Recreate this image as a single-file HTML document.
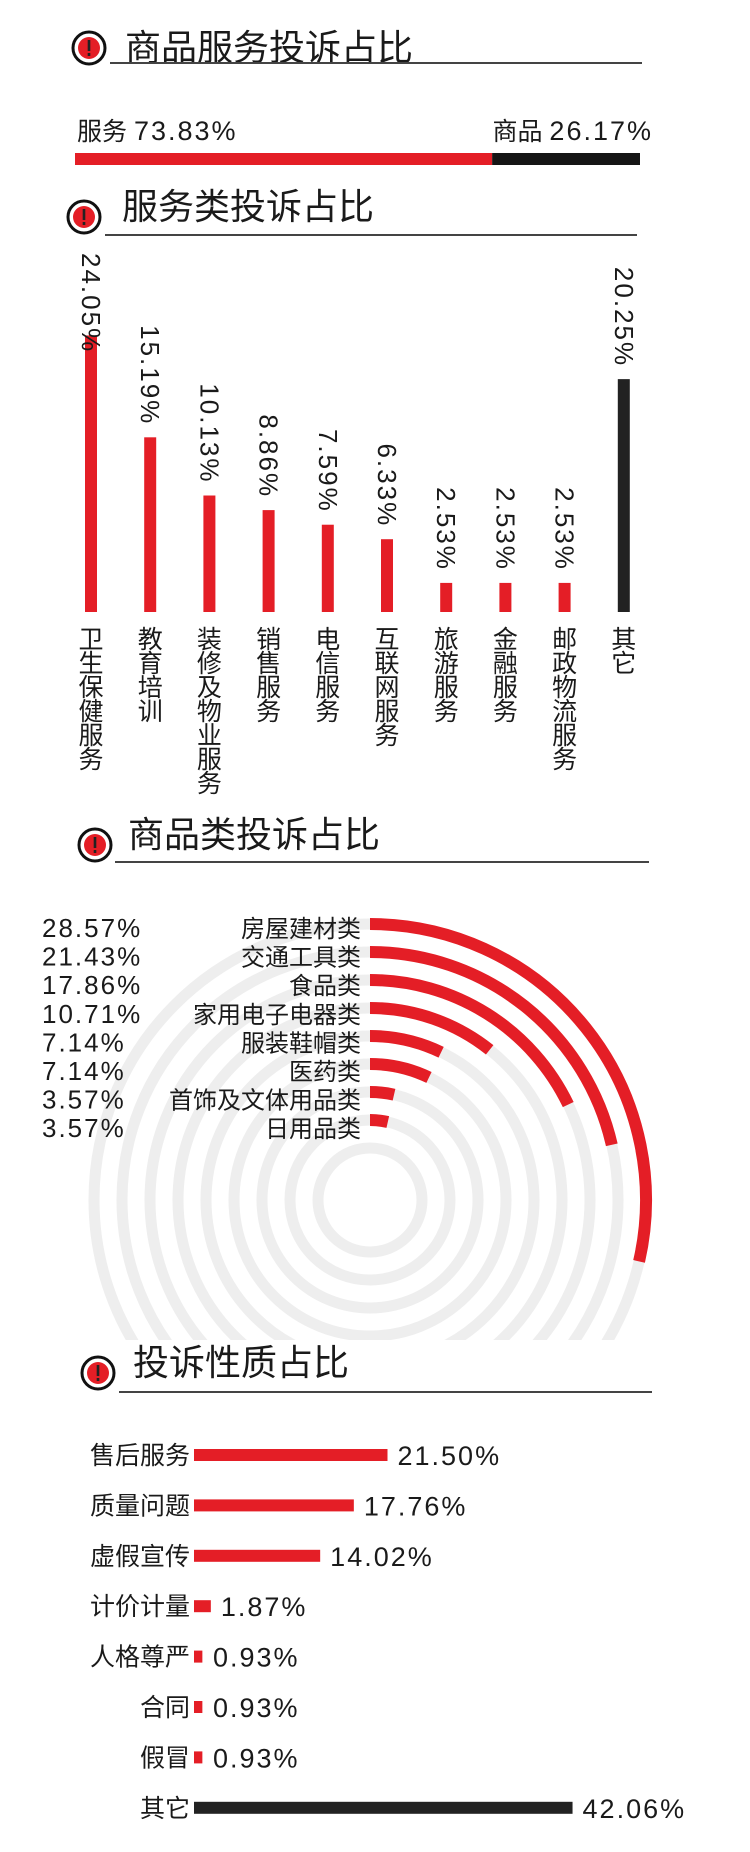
<!DOCTYPE html>
<html><head><meta charset="utf-8">
<style>
html,body{margin:0;padding:0;background:#fff;}
svg{display:block;}
text{font-family:"Liberation Sans","Noto Sans CJK SC",sans-serif;fill:#1a1a1a;}
.title{font-size:36px;}
.num{font-size:26px;letter-spacing:2px;}
.cat{font-size:24px;}
</style></head>
<body>
<svg id="chart" width="750" height="1852" viewBox="0 0 750 1852" xmlns="http://www.w3.org/2000/svg">
  <defs>
    <clipPath id="ringclip"><rect x="0" y="880" width="750" height="460"/></clipPath>
  </defs>
  <g id="titles"></g>
  <g id="sec1"></g>
  <g id="sec2"></g>
  <g id="sec3"></g>
  <g id="sec4"></g>
</svg>
<script>
// ---- data ----
const titleTexts = ["商品服务投诉占比", "服务类投诉占比", "商品类投诉占比", "投诉性质占比"];
const splitLabels = ["服务", "商品"];
const splitValues = [73.83, 26.17];

const serviceCats = ["卫生保健服务", "教育培训", "装修及物业服务", "销售服务", "电信服务", "互联网服务", "旅游服务", "金融服务", "邮政物流服务", "其它"];
const serviceValues = [24.05, 15.19, 10.13, 8.86, 7.59, 6.33, 2.53, 2.53, 2.53, 20.25];

const goodsCats = ["房屋建材类", "交通工具类", "食品类", "家用电子电器类", "服装鞋帽类", "医药类", "首饰及文体用品类", "日用品类"];
const goodsValues = [28.57, 21.43, 17.86, 10.71, 7.14, 7.14, 3.57, 3.57];

const natureCats = ["售后服务", "质量问题", "虚假宣传", "计价计量", "人格尊严", "合同", "假冒", "其它"];
const natureValues = [21.50, 17.76, 14.02, 1.87, 0.93, 0.93, 0.93, 42.06];

const RED = "#e41e26", BLACK = "#222";
const NS = "http://www.w3.org/2000/svg";
function mk(parent, tag, attrs, txt) {
  const e = document.createElementNS(NS, tag);
  for (const k in attrs) e.setAttribute(k, attrs[k]);
  if (txt !== undefined) e.textContent = txt;
  parent.appendChild(e);
  return e;
}
function fmt(v) { return v.toFixed(2) + "%"; }

// ---- titles ----
const titleLayout = [
  {ix: 89, iy: 48, tx: 125, ty: 60, lx1: 110, lx2: 642, ly: 63},
  {ix: 84, iy: 217, tx: 122, ty: 219, lx1: 105, lx2: 637, ly: 235},
  {ix: 95, iy: 845, tx: 128, ty: 847, lx1: 115, lx2: 649, ly: 862},
  {ix: 98, iy: 1373, tx: 133, ty: 1375, lx1: 119, lx2: 652, ly: 1392}
];
const tg = document.getElementById("titles");
titleTexts.forEach((t, i) => {
  const L = titleLayout[i];
  const g = mk(tg, "g", {});
  
  
  const ring = mk(g, "circle", {cx: L.ix, cy: L.iy, r: 16, fill: "#fff", stroke: "#111", "stroke-width": 3});
  
  
  mk(g, "circle", {cx: L.ix, cy: L.iy, r: 11, fill: RED});
  mk(g, "rect", {x: L.ix - 1.3, y: L.iy - 8, width: 2.6, height: 11, fill: "#222"});
  mk(g, "rect", {x: L.ix - 1.3, y: L.iy + 5, width: 2.6, height: 3, fill: "#222"});
  const tx = mk(g, "text", {x: L.tx, y: L.ty, class: "title"}, t);
  
  
  const ln = mk(g, "line", {x1: L.lx1, x2: L.lx2, y1: L.ly, y2: L.ly, stroke: "#444", "stroke-width": 2});
  
  
});

// ---- section 1: split bar ----
const s1 = document.getElementById("sec1");
const s1x0 = 75, s1x1 = 640, s1y = 153, s1h = 12;
const s1total = splitValues[0] + splitValues[1];
const s1split = s1x0 + (s1x1 - s1x0) * splitValues[0] / s1total;
let b = mk(s1, "rect", {x: s1x0, y: s1y, width: s1split - s1x0, height: s1h, fill: RED});


b = mk(s1, "rect", {x: s1split, y: s1y, width: s1x1 - s1split, height: s1h, fill: "#151515"});


let t = mk(s1, "text", {x: 77, y: 140});


mk(t, "tspan", {class: "cat", style: "font-size:25px"}, splitLabels[0] + " ");
mk(t, "tspan", {class: "num", style: "font-size:27px"}, fmt(splitValues[0]));
t = mk(s1, "text", {x: 653, y: 140, "text-anchor": "end"});


mk(t, "tspan", {class: "cat", style: "font-size:25px"}, splitLabels[1] + " ");
mk(t, "tspan", {class: "num", style: "font-size:27px"}, fmt(splitValues[1]));

// ---- section 2: vertical bars ----
const s2 = document.getElementById("sec2");
const s2base = 612, s2scale = 11.5, s2x0 = 91, s2step = 59.2, s2w = 12;
function s2x(i) { return s2x0 + i * s2step; }
function s2y(v) { return s2base - v * s2scale; }
serviceValues.forEach((v, i) => {
  const x = s2x(i), top = s2y(v);
  const last = i === serviceValues.length - 1;
  const r = mk(s2, "rect", {x: x - s2w / 2, y: top, width: s2w, height: s2base - top, fill: last ? BLACK : RED});
  
  
  const lab = mk(s2, "text", {class: "num", "dominant-baseline": "central"}, fmt(v));
  
  
  const len = lab.getComputedTextLength ? lab.getComputedTextLength() : 100;
  let start = top - 12 - len;
  if (start < 253) start = 253;
  lab.setAttribute("x", x);
  lab.setAttribute("y", start);
  lab.setAttribute("transform", "rotate(90," + x + "," + start + ")");
  const cg = mk(s2, "g", {});
  
  
  Array.from(serviceCats[i]).forEach((ch, k) => {
    mk(cg, "text", {x: x, y: 648 + k * 24, "text-anchor": "middle", style: "font-size:25px"}, ch);
  });
});

// ---- section 3: radial bars ----
const s3 = document.getElementById("sec3");
const cx = 370, cy = 1200, r0 = 276, rstep = 28, degPerPct = 3.6;
function ringR(i) { return r0 - i * rstep; }
const rings = mk(s3, "g", {"clip-path": "url(#ringclip)"});


for (let i = 0; i < goodsValues.length + 1; i++) {
  mk(rings, "circle", {cx: cx, cy: cy, r: ringR(i), fill: "none", stroke: "#eeeeee", "stroke-width": 11});
}
function polar(r, deg) {
  const a = deg * Math.PI / 180;
  return [cx + r * Math.sin(a), cy - r * Math.cos(a)];
}
goodsValues.forEach((v, i) => {
  const r = ringR(i), deg = v * degPerPct;
  const p0 = polar(r, 0), p1 = polar(r, deg);
  const large = deg > 180 ? 1 : 0;
  const path = mk(s3, "path", {d: "M" + p0[0] + "," + p0[1] + " A" + r + "," + r + " 0 " + large + " 1 " + p1[0] + "," + p1[1],
    fill: "none", stroke: RED, "stroke-width": 12, "clip-path": "url(#ringclip)"});
  
  
  const yb = 928 + i * 28.6 + 9;
  const pl = mk(s3, "text", {x: 42, y: yb, class: "num"}, fmt(v));
  
  
  const cl = mk(s3, "text", {x: 361, y: yb, class: "cat", "text-anchor": "end"}, goodsCats[i]);
  
  
});

// ---- section 4: horizontal bars ----
const s4 = document.getElementById("sec4");
const s4x0 = 194, s4scale = 9.0, s4y0 = 1455, s4step = 50.4, s4h = 12;
function s4x(v) { return s4x0 + v * s4scale; }
function s4y(i) { return s4y0 + i * s4step; }
natureValues.forEach((v, i) => {
  const yc = s4y(i), xe = s4x(v);
  const last = i === natureValues.length - 1;
  const r = mk(s4, "rect", {x: s4x0, y: yc - s4h / 2, width: xe - s4x0, height: s4h, fill: last ? BLACK : RED});
  
  
  const cl = mk(s4, "text", {x: 190, y: yc + 9, class: "cat", "text-anchor": "end", style: "font-size:25px"}, natureCats[i]);
  
  
  const vl = mk(s4, "text", {x: Math.max(xe + 10, 213), y: yc + 10, class: "num", style: "font-size:27px"}, fmt(v));
  
  
});
</script>
</body></html>
